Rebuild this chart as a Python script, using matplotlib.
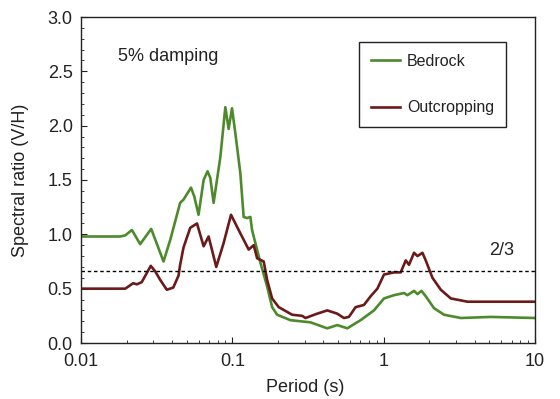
import matplotlib
matplotlib.use('Agg')
import matplotlib.pyplot as plt
from matplotlib.ticker import LogLocator, MultipleLocator, FixedLocator, FixedFormatter, NullFormatter

plt.rcParams['font.family'] = ['Liberation Sans', 'DejaVu Sans']
plt.rcParams['font.size'] = 13

# V/H spectral ratio, bedrock record
periods_bedrock = [0.01, 0.0181, 0.0196, 0.0217, 0.0246, 0.0291, 0.0351, 0.0389, 0.0452, 0.0476,
                   0.0533, 0.0560, 0.0598, 0.0646, 0.0686, 0.0715, 0.0752, 0.0833, 0.0899, 0.0945,
                   0.0995, 0.1047, 0.113, 0.1188, 0.1252, 0.1316, 0.135, 0.142, 0.1532, 0.1698,
                   0.1832, 0.1977, 0.2421, 0.3285, 0.4237, 0.4937, 0.5748, 0.704, 0.8626, 1.005,
                   1.17, 1.363, 1.435, 1.587, 1.672, 1.777, 1.897, 2.153, 2.508, 3.236, 5.112, 10.0]
ratio_bedrock = [0.98, 0.98, 0.99, 1.04, 0.91, 1.05, 0.75, 0.95, 1.29, 1.32,
                 1.43, 1.35, 1.18, 1.50, 1.58, 1.52, 1.29, 1.71, 2.17, 1.97,
                 2.16, 1.93, 1.56, 1.16, 1.15, 1.16, 1.04, 0.92, 0.74, 0.52,
                 0.33, 0.26, 0.21, 0.19, 0.135, 0.165, 0.135, 0.21, 0.30, 0.41,
                 0.44, 0.46, 0.44, 0.48, 0.45, 0.48, 0.43, 0.32, 0.26, 0.23, 0.24, 0.23]

# V/H spectral ratio, outcropping motion
periods_outcrop = [0.01, 0.0196, 0.0221, 0.0234, 0.0252, 0.0289, 0.0309, 0.0334, 0.0369, 0.0407,
                   0.0441, 0.0452, 0.0476, 0.0527, 0.0584, 0.0646, 0.0697, 0.0783, 0.0876, 0.0980,
                   0.1101, 0.1282, 0.1384, 0.1458, 0.1612, 0.1698, 0.1832, 0.2025, 0.2485, 0.2894,
                   0.3043, 0.3638, 0.4237, 0.4937, 0.546, 0.5891, 0.6525, 0.7406, 0.82, 0.9085,
                   1.005, 1.17, 1.296, 1.399, 1.471, 1.587, 1.672, 1.804, 1.897, 2.101,
                   2.385, 2.778, 3.584, 10.0]
ratio_outcrop = [0.50, 0.50, 0.55, 0.54, 0.56, 0.71, 0.66, 0.58, 0.49, 0.51,
                 0.62, 0.72, 0.88, 1.06, 1.10, 0.89, 0.98, 0.70, 0.92, 1.18,
                 1.04, 0.86, 0.90, 0.78, 0.75, 0.58, 0.41, 0.33, 0.26, 0.25,
                 0.23, 0.27, 0.30, 0.27, 0.23, 0.24, 0.33, 0.35, 0.43, 0.50,
                 0.63, 0.65, 0.65, 0.76, 0.72, 0.83, 0.80, 0.83, 0.76, 0.60,
                 0.49, 0.41, 0.38, 0.38]

threshold = 2 / 3
x_ticks = [0.01, 0.1, 1, 10]
x_tick_labels = ['0.01', '0.1', '1', '10']

fig = plt.figure(figsize=(5.6, 3.99), dpi=100)
ax = fig.add_axes([81 / 560, 1 - 343 / 399, 454 / 560, 326 / 399])

ax.plot(periods_bedrock, ratio_bedrock, color='#4d8a2c', lw=1.9, label='Bedrock')
ax.plot(periods_outcrop, ratio_outcrop, color='#6b1a1a', lw=1.9, label='Outcropping')
ax.axhline(threshold, color='black', lw=1, ls=(0, (2.5, 2)))

ax.set_xscale('log')
ax.set_xlim(0.01, 10)
ax.set_ylim(0, 3)
ax.xaxis.set_major_locator(FixedLocator(x_ticks))
ax.xaxis.set_major_formatter(FixedFormatter(x_tick_labels))
ax.xaxis.set_minor_locator(LogLocator(base=10, subs=range(2, 10)))
ax.xaxis.set_minor_formatter(NullFormatter())
ax.yaxis.set_major_locator(MultipleLocator(0.5))
ax.yaxis.set_minor_locator(MultipleLocator(0.1))
ax.yaxis.set_major_formatter(plt.FuncFormatter(lambda v, _: f'{v:.1f}'))
ax.tick_params(which='both', direction='in', top=False, right=False, color='#222222')
ax.tick_params(which='major', length=4, width=0.8, labelsize=13, labelcolor='#222222')
ax.tick_params(which='minor', length=2.5, width=0.6)
ax.tick_params(axis='x', pad=7)
ax.tick_params(axis='y', pad=6)
for s in ax.spines.values():
    s.set_linewidth(1.0)
    s.set_color('#222222')

ax.set_xlabel('Period (s)', fontsize=13, color='#222222')
ax.xaxis.set_label_coords(0.494, -0.11)
ax.set_ylabel('Spectral ratio (V/H)', fontsize=13, color='#222222')
ax.yaxis.set_label_coords(-0.115, 0.5)

ax.text(0.0176, 2.594, '5% damping', fontsize=13, va='baseline', ha='left', color='#222222')
ax.text(4.95, 0.81, '2/3', fontsize=13, va='baseline', ha='left', color='#222222')

leg = ax.legend(loc='upper left', bbox_to_anchor=(0.612, 0.923), borderaxespad=0,
                frameon=True, fancybox=False, edgecolor='#222222', framealpha=1,
                fontsize=11.5, handlelength=1.8, handletextpad=0.45, labelspacing=1.95,
                borderpad=0.75)
leg.get_frame().set_linewidth(1.0)
for t in leg.get_texts():
    t.set_color('#222222')

fig.savefig('out.png', dpi=100)
